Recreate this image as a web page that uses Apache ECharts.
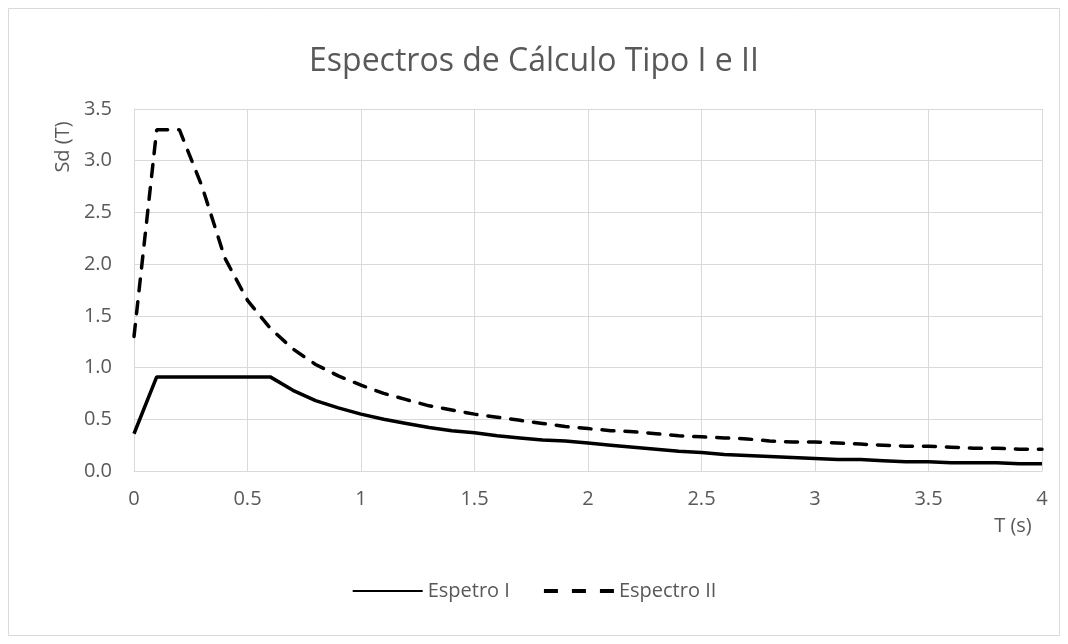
<!DOCTYPE html>
<html><head><meta charset="utf-8">
<script src="https://cdn.jsdelivr.net/npm/echarts@6/dist/echarts.min.js"></script>
<style>html,body{margin:0;padding:0;background:#fff}#c{width:1068px;height:644px}</style>
</head><body><div id="c"></div>
<script>
const periods = [0,0.1,0.2,0.3,0.4,0.5,0.6,0.7,0.8,0.9,1.0,1.1,1.2,1.3,1.4,1.5,1.6,1.7,1.8,1.9,2.0,2.1,2.2,2.3,2.4,2.5,2.6,2.7,2.8,2.9,3.0,3.1,3.2,3.3,3.4,3.5,3.6,3.7,3.8,3.9,4.0];
const espetroI = [0.36,0.91,0.91,0.91,0.91,0.91,0.91,0.78,0.68,0.61,0.55,0.50,0.46,0.42,0.39,0.37,0.34,0.32,0.30,0.29,0.27,0.25,0.23,0.21,0.19,0.18,0.16,0.15,0.14,0.13,0.12,0.11,0.11,0.10,0.09,0.09,0.08,0.08,0.08,0.07,0.07];
const espectroII = [1.30,3.30,3.30,2.75,2.06,1.65,1.38,1.18,1.03,0.92,0.83,0.75,0.69,0.63,0.59,0.55,0.52,0.49,0.46,0.43,0.41,0.39,0.38,0.36,0.34,0.33,0.32,0.31,0.29,0.28,0.28,0.27,0.26,0.25,0.24,0.24,0.23,0.22,0.22,0.21,0.21];
const seriesNames = ['Espetro I','Espectro II'];
const titleText = 'Espectros de Cálculo Tipo I e II';
const xAxisTitle = 'T (s)';
const yAxisTitle = 'Sd (T)';

const font = 'Open Sans, Liberation Sans, sans-serif';
const txt = '#595959';
const chart = echarts.init(document.getElementById('c'));
chart.setOption({
  animation:false,
  backgroundColor:'#fff',
  title:{text:titleText,left:'center',top:41,textStyle:{fontFamily:font,fontSize:32,fontWeight:'normal',color:txt}},
  grid:{left:134,right:26,top:109,bottom:173,containLabel:false},
  graphic:[
    {type:'rect',shape:{x:8.5,y:8.5,width:1051,height:627},style:{fill:null,stroke:'#d9d9d9',lineWidth:1},silent:true,z:-1},
    {type:'text',x:63,y:147,rotation:Math.PI/2,style:{text:yAxisTitle,font:'20px '+font,fill:txt,textAlign:'center',textVerticalAlign:'middle'}},
    {type:'text',x:1013,y:526,style:{text:xAxisTitle,font:'20px '+font,fill:txt,textAlign:'center',textVerticalAlign:'middle'}}
  ],
  legend:{top:576,left:'center',itemWidth:70,itemHeight:12,itemGap:32,
    itemStyle:{opacity:0},
    textStyle:{fontFamily:font,fontSize:20,color:txt},
    data:[{name:seriesNames[0]},{name:seriesNames[1],lineStyle:{type:[14,14],cap:'butt',width:4}}]},
  xAxis:{type:'value',min:0,max:4,interval:0.5,
    axisLine:{show:true,lineStyle:{color:'#d9d9d9'}},axisTick:{show:false},
    axisLabel:{fontFamily:font,fontSize:20,color:txt,margin:18},
    splitLine:{show:true,lineStyle:{color:'#d9d9d9',width:1}}},
  yAxis:{type:'value',min:0,max:3.5,interval:0.5,
    axisLine:{show:true,lineStyle:{color:'#d9d9d9'}},axisTick:{show:false},
    axisLabel:{fontFamily:font,fontSize:20,color:txt,margin:22,formatter:v=>v.toFixed(1)},
    splitLine:{show:true,lineStyle:{color:'#d9d9d9',width:1}}},
  series:[
    {name:seriesNames[0],type:'line',symbol:'none',color:'#000',
     lineStyle:{color:'#000',width:3.5,type:'solid'},
     data:periods.map((t,i)=>[t,espetroI[i]])},
    {name:seriesNames[1],type:'line',symbol:'none',color:'#000',
     lineStyle:{color:'#000',width:3.5,type:[12,11],cap:'round'},
     data:periods.map((t,i)=>[t,espectroII[i]])}
  ]
});
</script></body></html>
